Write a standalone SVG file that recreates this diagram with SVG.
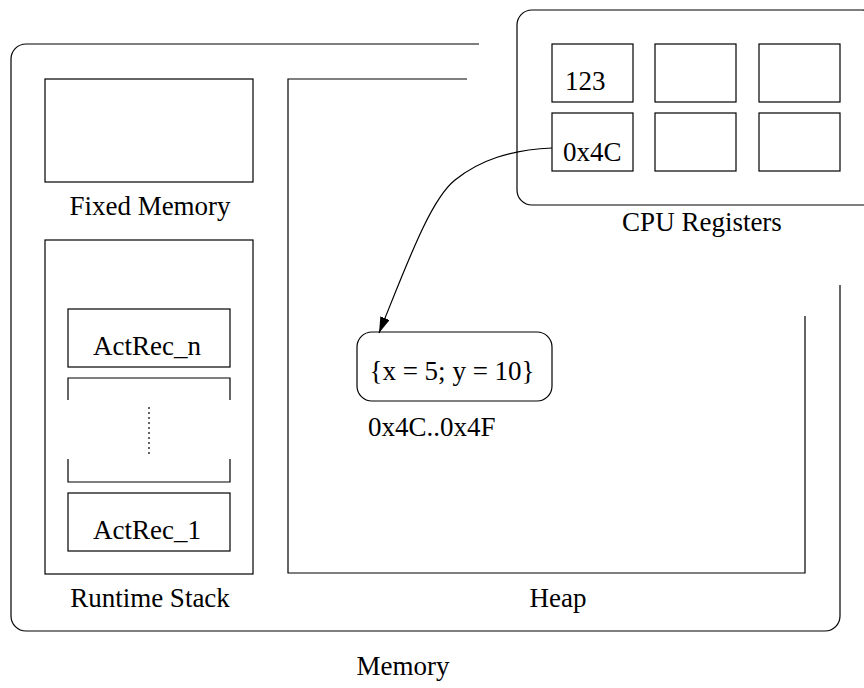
<svg xmlns="http://www.w3.org/2000/svg" width="864" height="688" viewBox="0 0 864 688">
<style>
.ln{fill:none;stroke:#000;stroke-width:1.2}
.bx{fill:#fff;stroke:#000;stroke-width:1.2}
text{font-family:"Liberation Serif","Times New Roman",serif;font-size:27px;fill:#000}
.m{text-anchor:middle}
</style>
<defs>
<marker id="ah" markerUnits="userSpaceOnUse" markerWidth="16" markerHeight="10" refX="16" refY="5" orient="auto">
<path d="M0,0 L16,5 L0,10 z" fill="#000"/>
</marker>
</defs>
<rect width="864" height="688" fill="#fff"/>
<g id="memory">
<path class="ln" d="M479,44 L26,44 A15,15 0 0 0 11,59 L11,616 A15,15 0 0 0 26,631 L825,631 A15,15 0 0 0 840,616 L840,285"/>
<text class="m" x="403" y="675">Memory</text>
</g>
<g id="fixed-memory">
<rect class="bx" x="45" y="79" width="208" height="103"/>
<text class="m" x="150" y="215">Fixed Memory</text>
</g>
<g id="runtime-stack">
<rect class="bx" x="45" y="240" width="208" height="334"/>
<text class="m" x="150" y="607">Runtime Stack</text>
</g>
<g id="actrec-n">
<rect class="bx" x="68" y="309" width="162" height="58"/>
<text class="m" x="147" y="355">ActRec_n</text>
</g>
<g id="actrec-gap">
<path class="ln" d="M68,400 L68,378 L230,378 L230,400 M68,459 L68,482 L230,482 L230,459"/>
<line class="ln" x1="149" y1="407" x2="149" y2="457" stroke-dasharray="2,3"/>
</g>
<g id="actrec-1">
<rect class="bx" x="68" y="493" width="162" height="58"/>
<text class="m" x="147" y="539">ActRec_1</text>
</g>
<g id="heap">
<path class="ln" d="M467,79 L288,79 L288,573 L805,573 L805,316"/>
<text class="m" x="558" y="607">Heap</text>
</g>
<g id="heap-object">
<rect class="bx" x="357" y="332" width="195" height="69" rx="15" ry="15"/>
<text class="m" x="452" y="380">{x = 5; y = 10}</text>
<text x="368" y="436">0x4C..0x4F</text>
</g>
<g id="cpu-registers">
<rect class="bx" x="517" y="10" width="360" height="195" rx="15" ry="15"/>
<text class="m" x="702" y="231">CPU Registers</text>
</g>
<g id="reg-1">
<rect class="bx" x="552" y="44" width="81" height="58"/>
<text x="565" y="90">123</text>
</g>
<g id="reg-2"><rect class="bx" x="655" y="44" width="81" height="58"/></g>
<g id="reg-3"><rect class="bx" x="759" y="44" width="81" height="58"/></g>
<g id="reg-4">
<rect class="bx" x="552" y="113" width="81" height="58"/>
<text x="563" y="161">0x4C</text>
</g>
<g id="reg-5"><rect class="bx" x="655" y="113" width="81" height="58"/></g>
<g id="reg-6"><rect class="bx" x="759" y="113" width="81" height="58"/></g>
<g id="connectors">
<path class="ln" d="M552,148 C510,150 480,160 455,180 C430,200 407,264 379,333" marker-end="url(#ah)"/>
</g>
</svg>
